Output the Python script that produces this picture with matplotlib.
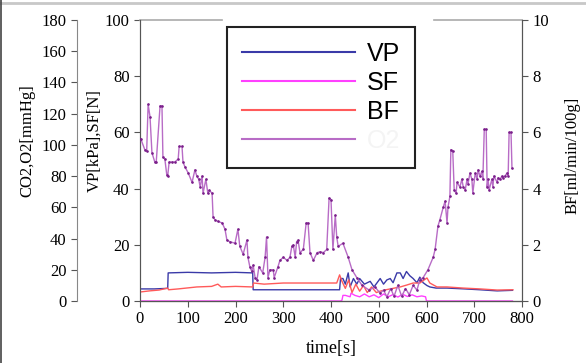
import matplotlib.pyplot as plt
from matplotlib.lines import Line2D

# time [s] and values
t_vp = [0, 30, 58, 59, 100, 150, 200, 236, 237, 300, 350, 418, 420, 425, 430, 436, 440, 447,
        454, 460, 470, 482, 490, 503, 510, 517, 524, 530, 538, 545, 551, 558, 565, 572, 580,
        586, 593, 601, 607, 620, 643, 680, 712, 748, 780]
vp = [4.3, 4.3, 4.5, 10, 10.2, 10, 10.2, 10, 4, 4, 4, 4, 8, 8, 6, 10, 5, 8,
      6, 8, 6, 7, 5, 8, 6, 7.5, 8, 6.5, 10, 10, 8, 10.5, 9, 8, 6.5,
      8.5, 6.5, 5.5, 5, 4.6, 4.6, 4.3, 4, 3.6, 3.8]

t_sf = [0, 420, 423, 425, 430, 440, 442, 450, 460, 470, 480, 490, 500, 510, 520, 530, 540,
        550, 560, 570, 580, 590, 598, 600, 780]
sf = [0, 0, 0.3, 2, 2, 1.5, 2.8, 2, 1.5, 2.5, 1.5, 2.2, 1.2, 2.5, 1.5, 2.3, 1.4,
      2.4, 1.6, 2.2, 1.5, 1.8, 1.5, 0, 0]

t_bf = [0, 20, 40, 58, 60, 80, 119, 150, 163, 170, 200, 236, 238, 260, 300, 350, 398, 412,
        418, 423, 430, 437, 444, 452, 460, 468, 476, 485, 495, 503, 515, 530, 545, 559, 572,
        586, 601, 607, 622, 643, 677, 712, 748, 781]
bf = [0.32, 0.36, 0.39, 0.46, 0.4, 0.43, 0.5, 0.52, 0.6, 0.5, 0.52, 0.5, 0.64, 0.6, 0.64, 0.64, 0.64, 0.64,
      0.93, 0.7, 0.45, 0.75, 0.3, 0.6, 0.35, 0.55, 0.3, 0.5, 0.3, 0.35, 0.4, 0.45, 0.5, 0.57, 0.64,
      0.64, 0.82, 0.64, 0.5, 0.5, 0.46, 0.43, 0.39, 0.4]

t_o2 = [0, 2, 10, 14, 17, 21, 25, 31, 34, 42, 46, 48, 52, 56, 58, 61, 67, 73, 80, 82, 88, 90,
        94, 101, 109, 115, 119, 123, 126, 130, 132, 138, 142, 145, 151, 153, 157, 163, 172,
        178, 182, 188, 199, 205, 209, 216, 224, 226, 230, 234, 237, 241, 245, 249, 257, 262,
        265, 268, 272, 279, 281, 289, 293, 300, 308, 314, 318, 321, 325, 328, 331, 335, 342,
        348, 352, 356, 363, 371, 377, 384, 391, 396, 400, 404, 409, 412, 415, 425, 436, 444,
        454, 465, 480, 492, 503, 510, 517, 525, 532, 540, 548, 556, 564, 572, 580, 586, 593,
        603, 614, 618, 624, 628, 635, 639, 643, 645, 649, 651, 655, 658, 662, 664, 670, 674,
        677, 681, 685, 687, 691, 695, 697, 702, 706, 708, 712, 716, 718, 721, 725, 727, 729,
        731, 737, 739, 741, 748, 750, 754, 758, 760, 764, 769, 771, 773, 777, 779]
o2 = [103.5, 103.5, 97, 96, 126, 118, 95, 89, 89, 125, 125, 92, 91, 81, 80, 89, 89, 89, 91, 99, 99, 89,
      86, 82, 76, 84, 80, 78, 73, 80, 69, 78, 69, 71, 69, 54, 52, 51, 50,
      46, 39, 38, 37, 46, 35, 30, 39, 28, 22, 19, 23, 15, 13.5, 22, 18, 28,
      41, 15, 20, 20, 15, 22, 26, 28, 26, 28, 35, 36, 28, 38, 39, 31, 33,
      50, 50, 31, 26, 31, 31.5, 31, 33, 66, 65, 33, 55, 41, 35, 37, 28, 20,
      15, 10, 7, 9, 5, 7, 2.6, 8, 3, 10, 3, 8, 4, 10, 7, 13.5, 15,
      20, 28, 33, 48, 52, 60, 64, 50, 60, 67, 97, 96, 71, 69, 76, 73, 78,
      73, 71, 78, 75, 82, 78, 69, 82, 78, 84, 80, 83, 78, 110, 110, 73, 78,
      71, 78, 73, 80, 76, 79, 78, 80, 79, 80, 82, 80, 108, 108, 85]

serif = 'Liberation Serif'
plt.rcParams['font.family'] = serif
plt.rcParams['font.size'] = 12

fig = plt.figure(figsize=(5.86, 3.63), dpi=100)
ax = fig.add_axes([140 / 586, 1 - 301 / 363, 382 / 586, 281 / 363])
ax_bf = ax.twinx()
ax_gas = ax.twinx()

l_vp, = ax.plot(t_vp, vp, color='#3a3aa8', lw=1, label='VP')
l_sf, = ax.plot(t_sf, sf, color='#ff40ff', lw=1, label='SF')
l_bf, = ax_bf.plot(t_bf, bf, color='#ff5a5a', lw=1, label='BF')
l_o2, = ax_gas.plot(t_o2, o2, color='#b86cc6', lw=1, label='O2')
ax_gas.plot(t_o2, o2, ls='none', marker='.', ms=1.8, color='#7a1f8a')

ax.set_xlim(0, 800)
ax.set_xticks(range(0, 801, 100))
ax.set_ylim(0, 100)
ax.set_yticks(range(0, 101, 20))
ax_bf.set_ylim(0, 10)
ax_bf.set_yticks(range(0, 11, 2))
ax_gas.set_ylim(0, 180)
ax_gas.set_yticks(range(0, 181, 20))

# gas axis sits on an offset spine at the left
ax_gas.spines['left'].set_position(('axes', -0.165))
ax_gas.spines['left'].set_visible(True)
ax_gas.yaxis.set_ticks_position('left')
ax_gas.yaxis.set_label_position('left')
ax_gas.spines['right'].set_visible(False)

for a in (ax, ax_bf, ax_gas):
    a.spines['top'].set_visible(False)
    a.tick_params(direction='out', length=4, width=0.8, color='#555555', labelsize=12)
    for s in a.spines.values():
        s.set_color('#555555')
ax.spines['left'].set_color('#777777')
ax_gas.spines['left'].set_color('#888888')

# top border, broken behind the legend
ax.plot([0, 0.2147], [1, 1], color='#aaaaaa', lw=1.2, transform=ax.transAxes, clip_on=False)
ax.plot([0.7696, 1], [1, 1], color='#aaaaaa', lw=1.2, transform=ax.transAxes, clip_on=False)

ax.set_xlabel('time[s]', fontsize=13)
ax.xaxis.set_label_coords(0.5, -0.17)
ax.xaxis.label.set_va('center')

ax.set_ylabel('VP[kPa],SF[N]', fontsize=12)
ax.yaxis.set_label_coords(-0.118, 0.57)
ax.yaxis.label.set_va('center')
ax_gas.set_ylabel('CO2,O2[mmHg]', fontsize=12)
ax_gas.yaxis.set_label_coords(-0.296, 0.57)
ax_gas.yaxis.label.set_va('center')
ax_bf.set_ylabel('BF[ml/min/100g]', fontsize=12)
ax_bf.yaxis.set_label_coords(1.131, 0.52)
ax_bf.yaxis.label.set_va('center')

leg = fig.legend(handles=[l_vp, l_sf, l_bf, l_o2], loc='upper left',
                 bbox_to_anchor=(227 / 586, 1 - 27 / 363), borderaxespad=0,
                 prop={'family': 'Liberation Sans', 'size': 18},
                 handlelength=4.5, handletextpad=0.5, labelspacing=0.2,
                 borderpad=0.6, fancybox=False, framealpha=1)
leg.get_frame().set_edgecolor('#222222')
leg.get_frame().set_linewidth(1.5)
for line in leg.get_lines():
    line.set_linewidth(1.5)
leg.get_texts()[3].set_color('#f4f4f4')

# outer frame of the screenshot
fig.add_artist(Line2D([0, 1], [1 - 2.5 / 363, 1 - 2.5 / 363], color='#c8c8c8', lw=2))
fig.add_artist(Line2D([0.6 / 586, 0.6 / 586], [0, 1], color='#444444', lw=1.2))

fig.savefig('out.png', dpi=100)
